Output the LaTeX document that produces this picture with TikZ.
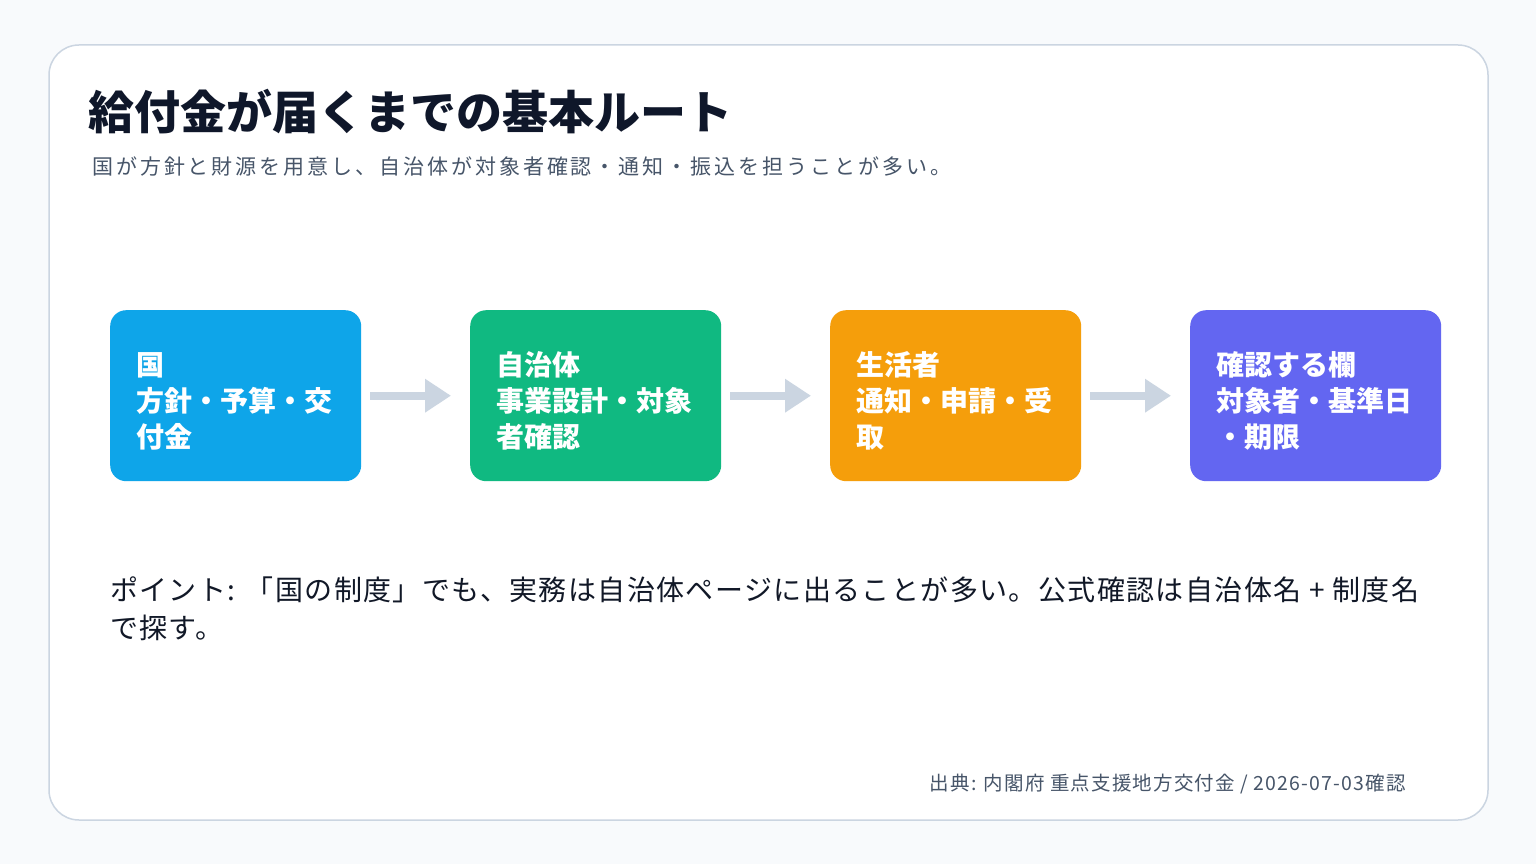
\documentclass[tikz,border=0pt]{standalone}
\usepackage{fontspec}
\setmainfont{Noto Sans CJK JP}
\newfontfamily\subjp[LetterSpace=14]{Noto Sans CJK JP}
\newfontfamily\notejp[LetterSpace=5]{Noto Sans CJK JP}
\newfontfamily\srcjp[LetterSpace=6]{Noto Sans CJK JP}
\usetikzlibrary{arrows.meta}
\definecolor{pagebg}{HTML}{F8FAFC}
\definecolor{cardline}{HTML}{CBD5E1}
\definecolor{titlecol}{HTML}{0F172A}
\definecolor{subcol}{HTML}{475569}
\definecolor{textcol}{HTML}{111827}
\definecolor{kuni}{HTML}{0EA5E9}
\definecolor{jichi}{HTML}{10B981}
\definecolor{seikatsu}{HTML}{F59E0B}
\definecolor{kakunin}{HTML}{6366F1}
\begin{document}
\begin{tikzpicture}[x=1pt,y=-1pt,
    stepbox/.style={rounded corners=16pt, minimum width=251pt, minimum height=171pt,
      anchor=north west, text=white, font=\fontsize{28}{36}\selectfont\bfseries,
      align=left, text width=199pt, text height=35pt, inner sep=0pt},
    flow/.style={cardline, line width=8pt,
      -{Triangle[length=26pt,width=32pt]}, shorten <=9pt, shorten >=19pt}]
    \useasboundingbox (0,0) rectangle (1536,864);
    \fill[pagebg] (0,0) rectangle (1536,864);
    \draw[cardline, fill=white, line width=1.5pt, rounded corners=30pt] (49,45) rectangle (1488,820);

    \node[anchor=base west, text=titlecol, font=\fontsize{46}{50}\selectfont\bfseries, inner sep=0pt] (title) at (88,130) {給付金が届くまでの基本ルート};
    \node[anchor=base west, text=subcol, font=\fontsize{21}{24}\subjp, inner sep=0pt] (sub) at (92,175) {国が方針と財源を用意し、自治体が対象者確認・通知・振込を担うことが多い。};

    \node[stepbox, fill=kuni] (b1) at (110,310) {国\\方針・予算・交\\付金};
    \node[stepbox, fill=jichi] (b2) at (470,310) {自治体\\事業設計・対象\\者確認};
    \node[stepbox, fill=seikatsu] (b3) at (830,310) {生活者\\通知・申請・受\\取};
    \node[stepbox, fill=kakunin] (b4) at (1190,310) {確認する欄\\対象者・基準日\\・期限};

    \draw[flow] (b1) -- (b2);
    \draw[flow] (b2) -- (b3);
    \draw[flow] (b3) -- (b4);

    \node[anchor=north west, text=textcol, font=\fontsize{28}{38}\notejp, align=left, inner sep=0pt] (point) at (110,577)
      {ポイント: 「国の制度」でも、実務は自治体ページに出ることが多い。公式確認は自治体名 + 制度名\\で探す。};

    \node[anchor=base east, text=subcol, font=\fontsize{19.5}{22}\srcjp, inner sep=0pt] (src) at (1406,790) {出典: 内閣府 重点支援地方交付金 / 2026-07-03確認};
\end{tikzpicture}
\end{document}
